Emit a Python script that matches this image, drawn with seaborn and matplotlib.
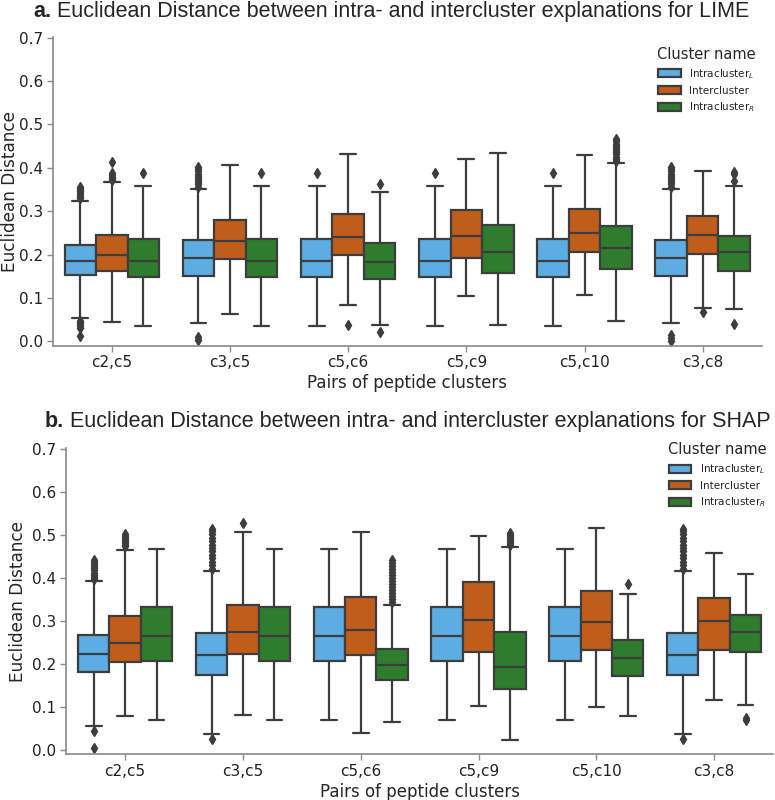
import matplotlib
matplotlib.use("Agg")
import matplotlib.pyplot as plt
import numpy as np
import pandas as pd
import seaborn as sns

pairs = ["c2,c5", "c3,c5", "c5,c6", "c5,c9", "c5,c10", "c3,c8"]
clusters = ["Intracluster$_L$", "Intercluster", "Intracluster$_R$"]
colors = ["#5dade2", "#c05d1b", "#2e7d2e"]

# ---- LIME box statistics (rows = pairs, cols = clusters) ----
lime_whislo = [[0.055, 0.045, 0.036], [0.043, 0.063, 0.036], [0.036, 0.085, 0.038],
               [0.036, 0.104, 0.039], [0.036, 0.107, 0.048], [0.043, 0.076, 0.074]]
lime_q1 = [[0.154, 0.163, 0.148], [0.152, 0.190, 0.148], [0.148, 0.199, 0.145],
           [0.148, 0.193, 0.157], [0.148, 0.206, 0.166], [0.152, 0.201, 0.162]]
lime_med = [[0.186, 0.199, 0.186], [0.192, 0.232, 0.186], [0.186, 0.240, 0.182],
            [0.186, 0.243, 0.206], [0.186, 0.249, 0.216], [0.192, 0.246, 0.206]]
lime_q3 = [[0.223, 0.245, 0.236], [0.233, 0.279, 0.236], [0.236, 0.294, 0.226],
           [0.236, 0.303, 0.269], [0.236, 0.305, 0.265], [0.233, 0.288, 0.242]]
lime_whishi = [[0.324, 0.367, 0.359], [0.352, 0.406, 0.359], [0.359, 0.433, 0.344],
               [0.359, 0.421, 0.434], [0.359, 0.430, 0.412], [0.352, 0.393, 0.358]]
lime_fliers_low = {
    (0, 0): [0.012, 0.030, 0.035, 0.040, 0.045, 0.048],
    (1, 0): [0.004, 0.010],
    (2, 1): [0.038],
    (2, 2): [0.022],
    (5, 0): [0.002, 0.008, 0.014],
    (5, 1): [0.069],
    (5, 2): [0.040],
}
lime_fliers_high = {
    (0, 0): [0.330, 0.334, 0.338, 0.342, 0.346, 0.350, 0.354, 0.357],
    (0, 1): [0.372, 0.376, 0.380, 0.384, 0.388, 0.413],
    (0, 2): [0.389],
    (1, 0): [0.357, 0.362, 0.367, 0.372, 0.377, 0.382, 0.387, 0.392, 0.397, 0.401],
    (1, 2): [0.389],
    (2, 0): [0.389],
    (2, 2): [0.362],
    (3, 0): [0.389],
    (4, 0): [0.389],
    (4, 2): [0.416, 0.421, 0.426, 0.431, 0.436, 0.441, 0.446, 0.451, 0.456, 0.461, 0.466],
    (5, 0): [0.357, 0.362, 0.367, 0.372, 0.377, 0.382, 0.387, 0.392, 0.397, 0.401],
    (5, 2): [0.370, 0.385, 0.390],
}

# ---- SHAP box statistics ----
shap_whislo = [[0.056, 0.078, 0.069], [0.038, 0.082, 0.069], [0.069, 0.039, 0.064],
               [0.069, 0.102, 0.022], [0.069, 0.100, 0.080], [0.038, 0.116, 0.104]]
shap_q1 = [[0.182, 0.205, 0.208], [0.174, 0.223, 0.208], [0.208, 0.221, 0.162],
           [0.208, 0.227, 0.141], [0.208, 0.232, 0.172], [0.174, 0.232, 0.228]]
shap_med = [[0.224, 0.248, 0.265], [0.220, 0.275, 0.265], [0.265, 0.280, 0.197],
            [0.265, 0.302, 0.194], [0.265, 0.297, 0.215], [0.220, 0.299, 0.274]]
shap_q3 = [[0.267, 0.312, 0.332], [0.272, 0.338, 0.332], [0.332, 0.355, 0.234],
           [0.332, 0.390, 0.274], [0.332, 0.369, 0.255], [0.272, 0.353, 0.315]]
shap_whishi = [[0.393, 0.466, 0.468], [0.417, 0.508, 0.468], [0.468, 0.508, 0.338],
               [0.468, 0.499, 0.472], [0.468, 0.516, 0.363], [0.417, 0.459, 0.409]]
shap_fliers_low = {
    (0, 0): [0.004, 0.045],
    (1, 0): [0.025],
    (5, 0): [0.025],
    (5, 2): [0.070, 0.075],
}
shap_fliers_high = {
    (0, 0): [0.398, 0.403, 0.408, 0.413, 0.418, 0.423, 0.428, 0.433, 0.438, 0.443],
    (0, 1): [0.474, 0.478, 0.482, 0.486, 0.490, 0.494, 0.498, 0.502],
    (1, 0): [0.422, 0.430, 0.438, 0.446, 0.454, 0.462, 0.470, 0.478, 0.486, 0.494, 0.502, 0.510, 0.514],
    (1, 1): [0.529],
    (2, 2): [0.345, 0.352, 0.359, 0.366, 0.373, 0.380, 0.387, 0.394, 0.401, 0.408, 0.415, 0.422, 0.429, 0.436, 0.442],
    (3, 2): [0.476, 0.481, 0.486, 0.491, 0.496, 0.501, 0.506],
    (4, 2): [0.386],
    (5, 0): [0.422, 0.430, 0.438, 0.446, 0.454, 0.462, 0.470, 0.478, 0.486, 0.494, 0.502, 0.510, 0.514],
}


def build_frame(whislo, q1, med, q3, whishi, low_fl, high_fl):
    """Assemble a sample per box whose quartiles/whiskers equal the read statistics."""
    rows = []
    for i, pair in enumerate(pairs):
        for j, cl in enumerate(clusters):
            lo = sorted(low_fl.get((i, j), []))
            hi = sorted(high_fl.get((i, j), []))
            m = max(len(lo), len(hi)) + 1
            vals = (lo + [whislo[i][j]] * (m - len(lo))
                    + [q1[i][j]] * m
                    + [med[i][j]] * m
                    + [q3[i][j]] + [whishi[i][j]] * (m - len(hi)) + hi)
            for v in vals:
                rows.append((pair, cl, v))
    return pd.DataFrame(rows, columns=["pair", "cluster", "value"])


lime_df = build_frame(lime_whislo, lime_q1, lime_med, lime_q3, lime_whishi,
                      lime_fliers_low, lime_fliers_high)
shap_df = build_frame(shap_whislo, shap_q1, shap_med, shap_q3, shap_whishi,
                      shap_fliers_low, shap_fliers_high)

sns.set_theme(style="ticks")
plt.rcParams["font.family"] = ["DejaVu Sans"]

fig = plt.figure(figsize=(7.75, 8.0), dpi=100)
ax1 = fig.add_axes([0.068, 0.568, 0.915, 0.386])
ax2 = fig.add_axes([0.0855, 0.0575, 0.912, 0.382])

line_col = "#3d3d3d"
spine_col = "#8a8a8a"

for ax, df, ylx in [(ax1, lime_df, -0.0475), (ax2, shap_df, -0.055)]:
    sns.boxplot(data=df, x="pair", y="value", hue="cluster", order=pairs,
                hue_order=clusters, palette=colors, saturation=1, width=0.8,
                linecolor=line_col, linewidth=1.6, fliersize=5,
                flierprops=dict(marker="d", markerfacecolor=line_col,
                                markeredgecolor=line_col),
                ax=ax)
    ax.set_ylim(-0.0095, 0.702)
    ax.set_yticks([0.0, 0.1, 0.2, 0.3, 0.4, 0.5, 0.6, 0.7])
    ax.set_yticklabels(["0.0", "0.1", "0.2", "0.3", "0.4", "0.5", "0.6", "0.7"])
    ax.set_xlim(-0.5, 5.5)
    ax.set_xlabel("Pairs of peptide clusters", fontsize=12, labelpad=3)
    ax.set_ylabel("Euclidean Distance", fontsize=12.2)
    ax.yaxis.set_label_coords(ylx, 0.5)
    ax.tick_params(axis="both", labelsize=11, colors="#222222", length=4,
                   width=1, pad=3)
    ax.tick_params(axis="both", color=spine_col)
    sns.despine(ax=ax)
    for s in ["left", "bottom"]:
        ax.spines[s].set_color(spine_col)
        ax.spines[s].set_linewidth(1.2)

sns.move_legend(ax1, "upper right", bbox_to_anchor=(1.005, 0.996), frameon=False,
                title="Cluster name", fontsize=7.5, title_fontsize=10.5,
                handlelength=2.2, handleheight=0.8, labelspacing=0.45)
sns.move_legend(ax2, "upper right", bbox_to_anchor=(1.004, 1.05), frameon=False,
                title="Cluster name", fontsize=7.5, title_fontsize=10.5,
                handlelength=2.2, handleheight=0.8, labelspacing=0.45)

title_font = "Liberation Sans"
for (x, y, tag, rest) in [(0.043, 0.979, "a.", " Euclidean Distance between intra- and intercluster explanations for LIME"),
                          (0.058, 0.466, "b.", " Euclidean Distance between intra- and intercluster explanations for SHAP")]:
    t = fig.text(x, y, tag, fontsize=15.5, fontweight="bold", family=title_font,
                 ha="left", va="baseline")
    ax1.annotate(rest, xy=(1, 0), xycoords=t, fontsize=15.5, family=title_font,
                 ha="left", va="bottom", annotation_clip=False)

fig.savefig("out.png", dpi=100)
